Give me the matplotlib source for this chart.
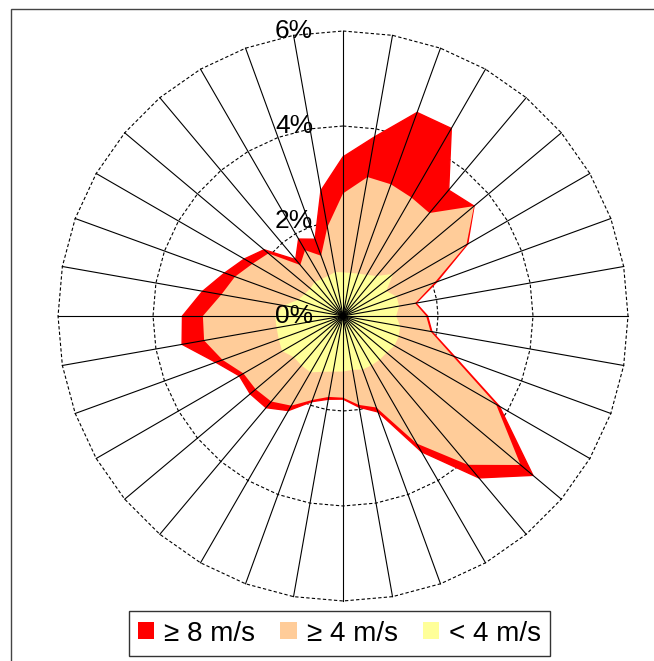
import numpy as np
import matplotlib
matplotlib.use("Agg")
import matplotlib.pyplot as plt
from matplotlib.patches import Patch, Rectangle

plt.rcParams['font.family'] = ['Liberation Sans', 'DejaVu Sans']

# Wind direction sectors (degrees from north, clockwise)
directions = np.arange(0, 360, 10)

# Cumulative frequency (%) per sector, outermost first
all_speeds = [3.35, 3.83, 4.56, 4.56, 3.46, 3.60, 3.03, 2.10, 1.56,
              1.78, 1.90, 2.50, 3.80, 5.22, 4.45, 3.30, 2.15, 1.95,
              1.75, 1.78, 1.92, 2.30, 2.52, 2.55, 2.52, 2.85, 3.44,
              3.38, 3.00, 2.65, 2.40, 2.17, 1.55, 1.87, 1.72, 2.68]
below_8 = [2.58, 2.97, 2.95, 2.88, 2.83, 3.60, 3.00, 2.05, 1.54,
           1.75, 1.87, 2.45, 3.72, 4.88, 4.09, 3.10, 2.05, 1.90,
           1.72, 1.73, 1.88, 2.18, 2.35, 2.40, 2.42, 2.70, 2.97,
           2.95, 2.60, 2.42, 2.20, 2.05, 1.40, 1.60, 1.35, 1.90]
below_4 = [0.92, 0.92, 0.95, 1.00, 1.10, 1.38, 1.05, 1.20, 1.20,
           1.12, 1.22, 1.25, 1.25, 1.20, 1.20, 1.20, 1.20, 1.15,
           1.17, 1.19, 1.25, 1.37, 1.36, 1.35, 1.48, 1.44, 1.42,
           1.43, 1.27, 1.00, 0.93, 0.90, 0.93, 0.90, 0.90, 0.94]

ring_levels = [0, 2, 4, 6]
ring_labels = ['0%', '2%', '4%', '6%']
legend_labels = ['\u2265 8 m/s', '\u2265 4 m/s', '< 4 m/s']
colors = ['#ff0000', '#ffcc99', '#ffff99']

theta = np.deg2rad(directions)
theta_c = np.append(theta, theta[0])


def closed(vals):
    return np.append(vals, vals[0])


fig = plt.figure(figsize=(6.54, 6.61), dpi=100)
ax = fig.add_axes([0.0887, 0.0908, 0.8716, 0.8623], projection='polar')
ax.set_theta_zero_location('N')
ax.set_theta_direction(-1)
ax.set_ylim(0, 6)
ax.grid(False)
ax.set_xticks([])
ax.set_yticks([])
ax.spines['polar'].set_visible(False)
ax.patch.set_visible(False)

# dashed 36-sided rings
for lvl in ring_levels[1:]:
    ax.plot(theta_c, np.full(len(theta_c), lvl), color='black', lw=0.8,
            ls=(0, (3, 2)), zorder=1, clip_on=False)

# stacked areas, largest drawn first
ax.fill(theta_c, closed(all_speeds), facecolor=colors[0], edgecolor=colors[0],
        lw=1.0, zorder=2)
ax.fill(theta_c, closed(below_8), facecolor=colors[1], edgecolor='none', zorder=3)
ax.fill(theta_c, closed(below_4), facecolor=colors[2], edgecolor='none', zorder=4)

# spokes
for th in theta:
    ax.plot([th, th], [0, 6], color='black', lw=0.8, zorder=5, clip_on=False)

for lvl, lab in zip(ring_levels, ring_labels):
    ax.annotate(lab, xy=(0, lvl), xytext=(-30, 0), textcoords='offset pixels',
                ha='right', va='center', fontsize=19, zorder=6,
                annotation_clip=False)

handles = [Patch(facecolor=c, edgecolor='none') for c in colors]
leg = fig.legend(handles, legend_labels, loc='center', ncol=3,
                 bbox_to_anchor=(0.5191, 0.0416), fontsize=20,
                 frameon=True, fancybox=False, shadow=False,
                 handlelength=0.58, handleheight=0.55, handletextpad=0.36,
                 columnspacing=0.9, borderpad=0.35, borderaxespad=0)
leg.get_frame().set_edgecolor('black')
leg.get_frame().set_linewidth(1.0)

# chart area border
fig.add_artist(Rectangle((11 / 654, -0.05), 1.1, 1 - 9 / 661 + 0.05,
                         transform=fig.transFigure, fill=False,
                         edgecolor='#444444', lw=1.0))

fig.savefig('out.png', dpi=100)
